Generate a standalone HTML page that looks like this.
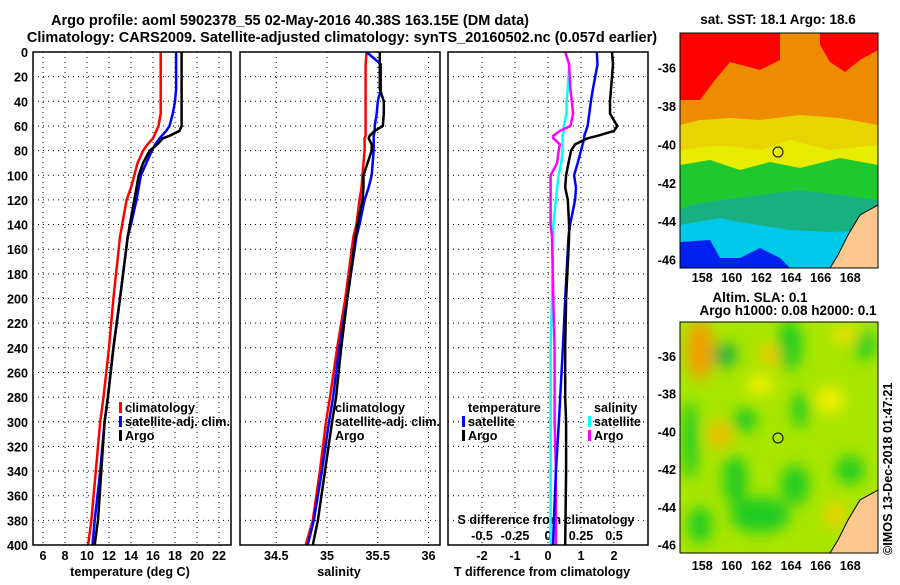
<!DOCTYPE html>
<html><head><meta charset="utf-8"><style>
body{margin:0;background:#fff;width:900px;height:580px;overflow:hidden}
svg text{font-family:"Liberation Sans",sans-serif;font-weight:bold;font-size:12.6px;fill:#000}
svg text.tt{font-size:14.5px}
</style></head><body>
<svg id="c" width="900" height="580" xmlns="http://www.w3.org/2000/svg">
<defs><filter id="bl" x="-50%" y="-50%" width="200%" height="200%"><feGaussianBlur stdDeviation="7"/></filter>
<clipPath id="cp1"><rect x="680" y="33" width="198" height="235"/></clipPath>
<clipPath id="cp2"><rect x="680" y="322" width="198" height="231"/></clipPath></defs>
<text class="tt" x="290" y="25" text-anchor="middle">Argo profile: aoml 5902378_55 02-May-2016 40.38S 163.15E (DM data)</text>
<text class="tt" x="342" y="42" text-anchor="middle">Climatology: CARS2009. Satellite-adjusted climatology: synTS_20160502.nc (0.057d earlier)</text>
<text x="778" y="24" text-anchor="middle" style="font-size:13.5px">sat. SST: 18.1 Argo: 18.6</text>
<text x="760" y="302" text-anchor="middle" style="font-size:13.5px">Altim. SLA: 0.1</text>
<text x="788" y="315" text-anchor="middle" style="font-size:13.5px">Argo h1000: 0.08 h2000: 0.1</text>
<text transform="translate(892,555) rotate(-90)">©IMOS 13-Dec-2018 01:47:21</text>
<g id="sstmap" clip-path="url(#cp1)">
<rect x="680" y="33" width="198" height="235" fill="#ee8c00"/>
<polygon points="680,33 780,33 780,60 760,70 730,62 715,80 700,100 680,100" fill="#ff0000"/>
<polygon points="820,33 878,33 878,50 860,60 845,72 830,62 820,45" fill="#ff0000"/>
<polygon points="680,125 700,120 730,118 760,120 800,115 840,118 878,125 878,268 680,268" fill="#e8d400"/>
<polygon points="680,150 720,145 760,150 790,140 830,150 878,145 878,268 680,268" fill="#e8ec00"/>
<polygon points="680,165 710,160 740,170 770,162 800,168 840,158 878,165 878,268 680,268" fill="#20c830"/>
<polygon points="690,205 720,200 760,195 800,190 840,195 878,200 878,268 680,268 680,210" fill="#18b080"/>
<polygon points="680,225 720,218 740,222 790,230 830,232 878,230 878,268 680,268" fill="#00c8e8"/>
<polygon points="680,242 710,240 720,258 740,258 760,248 780,258 790,268 680,268" fill="#0020f0"/>
<polygon points="878,205 860,215 848,235 838,255 830,268 878,268" fill="#fcc890" stroke="#000" stroke-width="1"/>
<circle cx="778" cy="152" r="5" fill="none" stroke="#000" stroke-width="1"/>
</g>
<g id="slamap" clip-path="url(#cp2)">
<rect x="680" y="322" width="198" height="231" fill="#a8e600"/>
<g filter="url(#bl)">
<ellipse cx="700" cy="350" rx="14" ry="30" fill="#f0a000"/>
<ellipse cx="725" cy="355" rx="12" ry="12" fill="#20b040"/>
<ellipse cx="790" cy="345" rx="12" ry="25" fill="#20cc20"/>
<ellipse cx="770" cy="355" rx="10" ry="12" fill="#f0c800"/>
<ellipse cx="865" cy="345" rx="10" ry="15" fill="#20cc20"/>
<ellipse cx="845" cy="335" rx="14" ry="8" fill="#f0e000"/>
<ellipse cx="720" cy="435" rx="12" ry="14" fill="#f0c000"/>
<ellipse cx="690" cy="440" rx="8" ry="40" fill="#20cc20"/>
<ellipse cx="745" cy="420" rx="12" ry="12" fill="#20cc20"/>
<ellipse cx="800" cy="410" rx="8" ry="18" fill="#20cc20"/>
<ellipse cx="735" cy="480" rx="12" ry="25" fill="#20cc20"/>
<ellipse cx="795" cy="485" rx="14" ry="20" fill="#20cc20"/>
<ellipse cx="760" cy="515" rx="30" ry="18" fill="#20cc20"/>
<ellipse cx="850" cy="470" rx="14" ry="14" fill="#20cc20"/>
<ellipse cx="700" cy="525" rx="12" ry="18" fill="#20cc20"/>
<ellipse cx="835" cy="515" rx="10" ry="14" fill="#f0d000"/>
<ellipse cx="830" cy="400" rx="14" ry="14" fill="#f0f000"/>
<ellipse cx="760" cy="385" rx="14" ry="10" fill="#f0f000"/>
</g>
<polygon points="878,490 860,500 848,520 838,540 830,553 878,553" fill="#fcc890" stroke="#000" stroke-width="1"/>
<circle cx="778" cy="438" r="5" fill="none" stroke="#000" stroke-width="1"/>
</g>
<rect x="680" y="33" width="198" height="235" fill="none" stroke="#000"/>
<rect x="680" y="322" width="198" height="231" fill="none" stroke="#000"/>
<g id="plots"></g>
</svg>
<script>
const depth=[0,10,30,40,50,60,64,68,70,75,80,90,100,110,120,140,150,200,240,280,300,340,380,400];
const tempClim=[16.7,16.7,16.7,16.7,16.7,16.5,16.3,16.1,16.0,15.5,15.1,14.6,14.3,14.0,13.6,13.2,13.0,12.4,12.0,11.5,11.2,10.8,10.4,10.1];
const tempSat=[18.1,18.1,18.1,18.0,17.8,17.5,17.2,16.8,16.6,16.2,15.9,15.4,14.9,14.7,14.5,14.0,13.7,13.0,12.4,11.9,11.6,11.2,10.7,10.5];
const tempArgo=[18.6,18.6,18.6,18.6,18.6,18.6,18.4,17.5,16.9,16.4,15.7,15.1,14.7,14.5,14.3,13.9,13.7,13.0,12.4,11.9,11.6,11.3,11.0,10.7];
const salClim=[35.39,35.38,35.38,35.38,35.38,35.38,35.38,35.38,35.37,35.37,35.37,35.36,35.35,35.34,35.32,35.29,35.26,35.18,35.10,35.03,34.99,34.93,34.86,34.79];
const salSat=[35.39,35.53,35.53,35.50,35.49,35.47,35.47,35.46,35.46,35.46,35.46,35.45,35.44,35.41,35.37,35.32,35.29,35.2,35.12,35.06,35.02,34.95,34.87,34.81];
const salArgo=[35.52,35.52,35.52,35.56,35.56,35.55,35.47,35.42,35.41,35.44,35.44,35.40,35.36,35.36,35.35,35.30,35.28,35.2,35.14,35.09,35.05,34.98,34.91,34.86];
const dTsat=[1.48,1.5,1.36,1.3,1.25,1.2,1.15,1.1,1.1,1.05,1.0,0.9,0.79,0.85,0.82,0.67,0.62,0.52,0.45,0.37,0.33,0.24,0.18,0.15];
const dTargo=[1.94,1.97,1.91,1.88,1.88,2.1,2.0,1.5,1.2,0.82,0.7,0.62,0.55,0.52,0.6,0.64,0.64,0.55,0.52,0.52,0.55,0.55,0.53,0.52];
const dSsat=[0.13,0.16,0.15,0.14,0.14,0.12,0.12,0.11,0.11,0.11,0.11,0.10,0.08,0.07,0.06,0.04,0.04,0.03,0.02,0.02,0.02,0.02,0.02,0.02];
const dSargo=[0.13,0.16,0.17,0.18,0.19,0.17,0.09,0.04,0.04,0.09,0.08,0.07,0.02,0.02,0.02,0.02,0.03,0.04,0.05,0.05,0.05,0.06,0.06,0.06];
const depthTicks=[0,20,40,60,80,100,120,140,160,180,200,220,240,260,280,300,320,340,360,380,400];
const tempTicks=[6,8,10,12,14,16,18,20,22];
const salTicks=[34.5,35,35.5,36];
const dTTicks=[-2,-1,0,1,2];
const dSTicks=[-0.5,-0.25,0,0.25,0.5];
const dSTickLabels=["-0.5","-0.25","0","0.25","0.5"];

const NS="http://www.w3.org/2000/svg";
const g=document.getElementById('plots');
function mk(t,a,txt){const e=document.createElementNS(NS,t);for(const k in a)e.setAttribute(k,a[k]);if(txt!==undefined)e.textContent=txt;g.appendChild(e);return e;}
const Y0=52,Y1=545;
const yD=d=>Y0+d/400*(Y1-Y0);
const xT=t=>43+(t-6)*11;
const xS=s=>327+(s-35)*101.5;
const xdT=v=>548+v*33;
const xdS=v=>548+v*132;
const panels=[[33,231],[240,440],[448,648]];
panels.forEach(([a,b],pi)=>{
  depthTicks.forEach(d=>{if(d>0&&d<400){const l=mk('line',{x1:a,x2:b,y1:yD(d),y2:yD(d),stroke:'#000','stroke-width':1,'stroke-dasharray':'1,4'});

}});
});
function vgrid(ticks,fx){ticks.forEach(t=>{const l=mk('line',{x1:fx(t),x2:fx(t),y1:Y0,y2:Y1,stroke:'#000','stroke-width':1,'stroke-dasharray':'1,4'});

});}
vgrid(tempTicks,xT);vgrid(salTicks,xS);vgrid(dTTicks,xdT);
depthTicks.forEach(d=>{const t=mk('text',{x:28,y:yD(d)+5,'text-anchor':'end'},String(d));

});
[-36,-38,-40,-42,-44,-46].forEach(l=>{
 const a=mk('text',{x:676,y:33+(-l-34.2)*19.2+5,'text-anchor':'end'},String(l));
 
 
 const b=mk('text',{x:676,y:322+(-l-34.2)*18.86+5,'text-anchor':'end'},String(l));
 
 
});
[158,160,162,164,166,168].forEach(l=>{
 const x=680+(l-156.5)*14.8;
 const a=mk('text',{x:x,y:282,'text-anchor':'middle'},String(l));
 
 
 const b=mk('text',{x:x,y:570,'text-anchor':'middle'},String(l));
 
 
});
function xticks(ticks,fx,labels,y,name){ticks.forEach((t,i)=>{const e=mk('text',{x:fx(t),y:y,'text-anchor':'middle'},labels?labels[i]:String(t));

});}
xticks(tempTicks,xT,null,560,'temp-tick-label');
xticks(salTicks,xS,null,560,'salinity-tick-label');
xticks(dTTicks,xdT,null,560,'tdiff-tick-label');
xticks(dSTicks,xdS,dSTickLabels,540,'sdiff-tick-label');
[['temperature (deg C)',130,'temp-axis-title'],['salinity',339,'salinity-axis-title'],['T difference from climatology',542,'tdiff-axis-title']].forEach(([s,x,n])=>{
 const e=mk('text',{x:x,y:576,'text-anchor':'middle'},s);
 
 });
{const e=mk('text',{x:546,y:524,'text-anchor':'middle'},'S difference from climatology');

}
function line(vals,fx,col,name){const p=vals.map((v,i)=>fx(v).toFixed(1)+','+yD(depth[i]).toFixed(1)).join(' ');
 const e=mk('polyline',{points:p,fill:'none',stroke:col,'stroke-width':2.5});
 
 }
line(tempClim,xT,'#ff0000','temp-climatology-line');
line(tempSat,xT,'#0000ff','temp-satellite-line');
line(tempArgo,xT,'#000','temp-argo-line');
line(salClim,xS,'#ff0000','salinity-climatology-line');
line(salSat,xS,'#0000ff','salinity-satellite-line');
line(salArgo,xS,'#000','salinity-argo-line');
line(dSsat,xdS,'#00ffff','sdiff-satellite-line');
line(dSargo,xdS,'#ff00ff','sdiff-argo-line');
line(dTsat,xdT,'#0000ff','tdiff-satellite-line');
line(dTargo,xdT,'#000','tdiff-argo-line');
function leg(x,y,col,txt,name){if(col){const r=mk('rect',{x:x-6,y:y-10,width:3,height:11,fill:col});

}
 const t=mk('text',{x:x,y:y},txt);
 
 }
leg(125,412,'#ff0000','climatology','legend-climatology');
leg(125,426,'#0000ff','satellite-adj. clim.','legend-satellite-adj');
leg(125,440,'#000','Argo','legend-argo');
leg(335,412,null,'climatology','legend2-climatology');
leg(335,426,null,'satellite-adj. clim.','legend2-satellite-adj');
leg(335,440,null,'Argo','legend2-argo');
leg(468,412,null,'temperature','legend-temperature-header');
leg(468,426,'#0000ff','satellite','legend-temp-satellite');
leg(468,440,'#000','Argo','legend-temp-argo');
leg(594,412,null,'salinity','legend-salinity-header');
leg(594,426,'#00ffff','satellite','legend-sal-satellite');
leg(594,440,'#ff00ff','Argo','legend-sal-argo');
panels.forEach(([a,b],i)=>{const r=mk('rect',{x:a,y:Y0,width:b-a,height:Y1-Y0,fill:'none',stroke:'#000','stroke-width':1.5});

});
</script>
</body></html>
